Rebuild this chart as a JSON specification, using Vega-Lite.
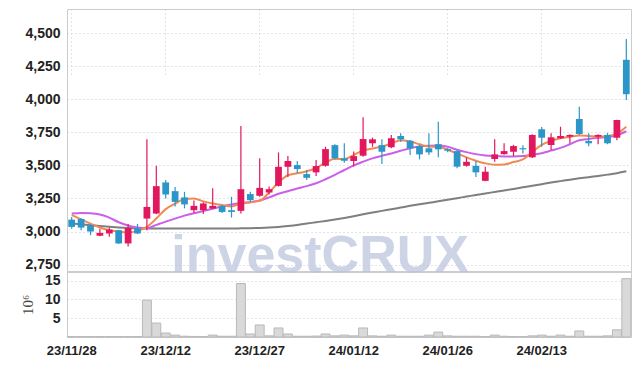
{
  "$schema": "https://vega.github.io/schema/vega-lite/v6.json",
  "width": 564,
  "height": 328,
  "autosize": {"type": "none"},
  "padding": {"left": 67, "top": 9, "right": 8, "bottom": 29},
  "background": "#ffffff",
  "config": {
    "view": {"stroke": "#cccccc", "strokeWidth": 1},
    "axis": {
      "labelFont": "Liberation Sans",
      "labelFontWeight": "bold",
      "labelFontSize": 13,
      "labelColor": "#222222",
      "ticks": false,
      "tickSize": 0,
      "domain": false,
      "gridColor": "#c4c8da",
      "gridDash": [1, 3],
      "gridWidth": 1
    }
  },
  "datasets": {
    "watermark": [{"label": "investCRUX", "date": "24/01/08", "price": 2694}]
  },
  "data": {
    "values": [
      {"date": "23/11/28", "open": 3090, "high": 3110, "low": 3020, "close": 3035, "volume": 0.1, "ma5": 3125, "ma20": 3136, "ma60": 3061},
      {"date": "23/11/29", "open": 3095, "high": 3100, "low": 3010, "close": 3030, "volume": 0.1, "ma5": 3092, "ma20": 3140, "ma60": 3055},
      {"date": "23/11/30", "open": 3048, "high": 3055, "low": 2972, "close": 3000, "volume": 0.1, "ma5": 3060, "ma20": 3138, "ma60": 3048},
      {"date": "23/12/01", "open": 2968, "high": 3020, "low": 2965, "close": 2990, "volume": 0.1, "ma5": 3030, "ma20": 3128, "ma60": 3042},
      {"date": "23/12/04", "open": 2985, "high": 3030, "low": 2960, "close": 3015, "volume": 0.1, "ma5": 3010, "ma20": 3105, "ma60": 3036},
      {"date": "23/12/05", "open": 3010, "high": 3012, "low": 2905, "close": 2910, "volume": 0.1, "ma5": 2998, "ma20": 3070, "ma60": 3031},
      {"date": "23/12/06", "open": 2910, "high": 3057, "low": 2887, "close": 3027, "volume": 0.1, "ma5": 2992, "ma20": 3045, "ma60": 3027},
      {"date": "23/12/07", "open": 3023, "high": 3057, "low": 2980, "close": 2985, "volume": 0.1, "ma5": 3005, "ma20": 3030, "ma60": 3025},
      {"date": "23/12/08", "open": 3098, "high": 3697, "low": 3010, "close": 3186, "volume": 9.8, "ma5": 3035, "ma20": 3025, "ma60": 3023},
      {"date": "23/12/11", "open": 3136, "high": 3497, "low": 3130, "close": 3343, "volume": 3.7, "ma5": 3098, "ma20": 3050, "ma60": 3023},
      {"date": "23/12/12", "open": 3371, "high": 3390, "low": 3250, "close": 3280, "volume": 1.05, "ma5": 3169, "ma20": 3075, "ma60": 3022},
      {"date": "23/12/13", "open": 3305, "high": 3336, "low": 3190, "close": 3224, "volume": 0.5, "ma5": 3210, "ma20": 3098, "ma60": 3022},
      {"date": "23/12/14", "open": 3258, "high": 3300, "low": 3175, "close": 3205, "volume": 0.2, "ma5": 3245, "ma20": 3120, "ma60": 3022},
      {"date": "23/12/15", "open": 3161, "high": 3235, "low": 3140, "close": 3194, "volume": 0.15, "ma5": 3250, "ma20": 3138, "ma60": 3022},
      {"date": "23/12/18", "open": 3161, "high": 3222, "low": 3133, "close": 3212, "volume": 0.1, "ma5": 3228, "ma20": 3155, "ma60": 3022},
      {"date": "23/12/19", "open": 3174, "high": 3327, "low": 3170, "close": 3194, "volume": 0.5, "ma5": 3212, "ma20": 3172, "ma60": 3022},
      {"date": "23/12/20", "open": 3194, "high": 3200, "low": 3140, "close": 3148, "volume": 0.2, "ma5": 3200, "ma20": 3190, "ma60": 3023},
      {"date": "23/12/21", "open": 3161, "high": 3262, "low": 3106, "close": 3148, "volume": 0.2, "ma5": 3190, "ma20": 3205, "ma60": 3023},
      {"date": "23/12/22", "open": 3156, "high": 3798, "low": 3136, "close": 3320, "volume": 14.2, "ma5": 3212, "ma20": 3215, "ma60": 3024},
      {"date": "23/12/26", "open": 3283, "high": 3300, "low": 3225, "close": 3237, "volume": 0.8, "ma5": 3222, "ma20": 3222, "ma60": 3025},
      {"date": "23/12/27", "open": 3270, "high": 3553, "low": 3262, "close": 3330, "volume": 3.2, "ma5": 3232, "ma20": 3235, "ma60": 3027},
      {"date": "23/12/28", "open": 3295, "high": 3340, "low": 3280, "close": 3320, "volume": 0.3, "ma5": 3295, "ma20": 3258, "ma60": 3030},
      {"date": "24/01/02", "open": 3345, "high": 3598, "low": 3340, "close": 3489, "volume": 2.4, "ma5": 3370, "ma20": 3285, "ma60": 3035},
      {"date": "24/01/03", "open": 3489, "high": 3570, "low": 3413, "close": 3533, "volume": 0.8, "ma5": 3425, "ma20": 3305, "ma60": 3042},
      {"date": "24/01/04", "open": 3502, "high": 3533, "low": 3443, "close": 3472, "volume": 0.2, "ma5": 3440, "ma20": 3325, "ma60": 3050},
      {"date": "24/01/05", "open": 3434, "high": 3465, "low": 3390, "close": 3406, "volume": 0.2, "ma5": 3455, "ma20": 3343, "ma60": 3060},
      {"date": "24/01/08", "open": 3447, "high": 3540, "low": 3420, "close": 3495, "volume": 0.25, "ma5": 3480, "ma20": 3365, "ma60": 3070},
      {"date": "24/01/09", "open": 3497, "high": 3641, "low": 3490, "close": 3623, "volume": 0.8, "ma5": 3520, "ma20": 3395, "ma60": 3080},
      {"date": "24/01/10", "open": 3653, "high": 3660, "low": 3545, "close": 3553, "volume": 0.3, "ma5": 3550, "ma20": 3428, "ma60": 3091},
      {"date": "24/01/11", "open": 3553, "high": 3668, "low": 3520, "close": 3535, "volume": 0.5, "ma5": 3548, "ma20": 3465, "ma60": 3103},
      {"date": "24/01/12", "open": 3533, "high": 3604, "low": 3492, "close": 3570, "volume": 0.3, "ma5": 3578, "ma20": 3500, "ma60": 3116},
      {"date": "24/01/15", "open": 3573, "high": 3864, "low": 3565, "close": 3699, "volume": 2.4, "ma5": 3612, "ma20": 3528, "ma60": 3130},
      {"date": "24/01/16", "open": 3667, "high": 3710, "low": 3640, "close": 3697, "volume": 0.3, "ma5": 3628, "ma20": 3553, "ma60": 3143},
      {"date": "24/01/17", "open": 3653, "high": 3697, "low": 3510, "close": 3603, "volume": 0.2, "ma5": 3642, "ma20": 3572, "ma60": 3156},
      {"date": "24/01/18", "open": 3637, "high": 3730, "low": 3630, "close": 3705, "volume": 0.5, "ma5": 3665, "ma20": 3590, "ma60": 3168},
      {"date": "24/01/19", "open": 3722, "high": 3742, "low": 3676, "close": 3697, "volume": 0.2, "ma5": 3690, "ma20": 3610, "ma60": 3181},
      {"date": "24/01/22", "open": 3686, "high": 3692, "low": 3578, "close": 3629, "volume": 0.2, "ma5": 3680, "ma20": 3630, "ma60": 3194},
      {"date": "24/01/23", "open": 3646, "high": 3655, "low": 3545, "close": 3583, "volume": 0.2, "ma5": 3660, "ma20": 3642, "ma60": 3206},
      {"date": "24/01/24", "open": 3629, "high": 3742, "low": 3578, "close": 3598, "volume": 0.5, "ma5": 3642, "ma20": 3648, "ma60": 3217},
      {"date": "24/01/25", "open": 3660, "high": 3830, "low": 3561, "close": 3621, "volume": 1.3, "ma5": 3640, "ma20": 3650, "ma60": 3228},
      {"date": "24/01/26", "open": 3623, "high": 3630, "low": 3600, "close": 3611, "volume": 0.3, "ma5": 3618, "ma20": 3640, "ma60": 3240},
      {"date": "24/01/29", "open": 3608, "high": 3615, "low": 3478, "close": 3490, "volume": 0.2, "ma5": 3590, "ma20": 3618, "ma60": 3252},
      {"date": "24/01/30", "open": 3497, "high": 3560, "low": 3490, "close": 3527, "volume": 0.2, "ma5": 3560, "ma20": 3600, "ma60": 3264},
      {"date": "24/01/31", "open": 3497, "high": 3533, "low": 3413, "close": 3447, "volume": 0.2, "ma5": 3535, "ma20": 3585, "ma60": 3276},
      {"date": "24/02/01", "open": 3383, "high": 3490, "low": 3380, "close": 3452, "volume": 0.1, "ma5": 3515, "ma20": 3575, "ma60": 3288},
      {"date": "24/02/02", "open": 3548, "high": 3697, "low": 3527, "close": 3583, "volume": 0.5, "ma5": 3505, "ma20": 3570, "ma60": 3299},
      {"date": "24/02/05", "open": 3585, "high": 3667, "low": 3580, "close": 3608, "volume": 0.2, "ma5": 3507, "ma20": 3568, "ma60": 3310},
      {"date": "24/02/06", "open": 3603, "high": 3655, "low": 3570, "close": 3646, "volume": 0.1, "ma5": 3525, "ma20": 3568, "ma60": 3322},
      {"date": "24/02/07", "open": 3630, "high": 3653, "low": 3590, "close": 3621, "volume": 0.1, "ma5": 3545, "ma20": 3570, "ma60": 3334},
      {"date": "24/02/08", "open": 3561, "high": 3735, "low": 3555, "close": 3730, "volume": 0.3, "ma5": 3600, "ma20": 3580, "ma60": 3346},
      {"date": "24/02/13", "open": 3773, "high": 3790, "low": 3640, "close": 3709, "volume": 0.5, "ma5": 3655, "ma20": 3592, "ma60": 3358},
      {"date": "24/02/14", "open": 3654, "high": 3742, "low": 3616, "close": 3712, "volume": 0.2, "ma5": 3685, "ma20": 3612, "ma60": 3370},
      {"date": "24/02/15", "open": 3705, "high": 3792, "low": 3700, "close": 3722, "volume": 0.5, "ma5": 3705, "ma20": 3632, "ma60": 3381},
      {"date": "24/02/16", "open": 3717, "high": 3735, "low": 3667, "close": 3730, "volume": 0.2, "ma5": 3715, "ma20": 3660, "ma60": 3392},
      {"date": "24/02/19", "open": 3851, "high": 3944, "low": 3730, "close": 3737, "volume": 1.6, "ma5": 3725, "ma20": 3690, "ma60": 3402},
      {"date": "24/02/20", "open": 3684, "high": 3742, "low": 3644, "close": 3667, "volume": 0.2, "ma5": 3722, "ma20": 3700, "ma60": 3411},
      {"date": "24/02/21", "open": 3717, "high": 3735, "low": 3660, "close": 3730, "volume": 0.2, "ma5": 3718, "ma20": 3708, "ma60": 3420},
      {"date": "24/02/22", "open": 3730, "high": 3745, "low": 3660, "close": 3667, "volume": 0.3, "ma5": 3722, "ma20": 3714, "ma60": 3430},
      {"date": "24/02/23", "open": 3709, "high": 3845, "low": 3690, "close": 3843, "volume": 1.9, "ma5": 3740, "ma20": 3728, "ma60": 3441},
      {"date": "24/02/26", "open": 4298, "high": 4455, "low": 3995, "close": 4038, "volume": 15.5, "ma5": 3792, "ma20": 3758, "ma60": 3455}
    ]
  },
  "layer": [
    {
      "mark": {"type": "bar", "width": {"band": 0.95}, "fill": "#d9d9d9", "stroke": "#b8b8b8", "strokeWidth": 1},
      "encoding": {
        "x": {"field": "date", "type": "ordinal", "sort": null,
          "scale": {"paddingInner": 0, "paddingOuter": 0},
          "axis": {"values": ["23/11/28", "23/12/12", "23/12/27", "24/01/12", "24/01/26", "24/02/13"], "labelAngle": 0, "grid": true, "bandPosition": 0.5, "labelPadding": 7, "title": null}},
        "y": {"field": "volume", "type": "quantitative", "scale": {"domain": [0, 17.26], "range": [328, 263], "nice": false},
          "axis": {"values": [5, 10, 15], "grid": true, "labelPadding": 7, "labelFontSize": 14, "orient": "left", "title": "10⁶", "titleFont": "Liberation Serif", "titleFontWeight": "normal", "titleFontSize": 15, "titleColor": "#444444", "titlePadding": 9}}
      }
    },
    {
      "layer": [
        {
          "mark": {"type": "rule", "color": "#cccccc", "strokeWidth": 1},
          "encoding": {
            "y": {"datum": 2694, "type": "quantitative", "scale": {"domain": [2694, 4682], "range": [263, 0], "nice": false, "zero": false}}
          }
        },
        {
          "mark": {"type": "line", "color": "#7f7f7f", "strokeWidth": 2, "interpolate": "monotone"},
          "encoding": {
            "x": {"field": "date", "type": "ordinal", "sort": null},
            "y": {"field": "ma60", "type": "quantitative", "scale": {"domain": [2694, 4682], "range": [263, 0], "nice": false, "zero": false}}
          }
        },
        {
          "mark": {"type": "line", "color": "#cc5fe8", "strokeWidth": 2, "interpolate": "monotone"},
          "encoding": {
            "x": {"field": "date", "type": "ordinal", "sort": null},
            "y": {"field": "ma20", "type": "quantitative", "scale": {"domain": [2694, 4682], "range": [263, 0], "nice": false, "zero": false}}
          }
        },
        {
          "mark": {"type": "line", "color": "#f08a52", "strokeWidth": 2, "interpolate": "monotone"},
          "encoding": {
            "x": {"field": "date", "type": "ordinal", "sort": null},
            "y": {"field": "ma5", "type": "quantitative", "scale": {"domain": [2694, 4682], "range": [263, 0], "nice": false, "zero": false}}
          }
        },
        {
          "mark": {"type": "rule", "strokeWidth": 1.2},
          "encoding": {
            "x": {"field": "date", "type": "ordinal", "sort": null},
            "y": {"field": "low", "type": "quantitative", "scale": {"domain": [2694, 4682], "range": [263, 0], "nice": false, "zero": false}},
            "y2": {"field": "high"},
            "color": {"condition": {"test": "datum.close > datum.open", "value": "#e2185f"}, "value": "#2c96c8"}
          }
        },
        {
          "mark": {"type": "bar", "width": {"band": 0.72}},
          "encoding": {
            "x": {"field": "date", "type": "ordinal", "sort": null},
            "y": {"field": "open", "type": "quantitative", "scale": {"domain": [2694, 4682], "range": [263, 0], "nice": false, "zero": false},
              "axis": {"values": [2750, 3000, 3250, 3500, 3750, 4000, 4250, 4500], "format": ",d", "grid": true, "labelPadding": 7, "labelFontSize": 14, "title": null, "orient": "left"}},
            "y2": {"field": "close"},
            "color": {"condition": {"test": "datum.close > datum.open", "value": "#e2185f"}, "value": "#2c96c8"}
          }
        },
        {
          "data": {"name": "watermark"},
          "mark": {"type": "text", "font": "Liberation Sans", "fontWeight": "bold", "fontSize": 52, "align": "center", "baseline": "alphabetic", "fill": "#b9c2dc", "opacity": 0.7, "dx": 4},
          "encoding": {
            "text": {"field": "label"},
            "x": {"field": "date", "type": "ordinal", "sort": null},
            "y": {"field": "price", "type": "quantitative", "scale": {"domain": [2694, 4682], "range": [263, 0], "nice": false, "zero": false}}
          }
        }
      ]
    }
  ],
  "resolve": {"scale": {"y": "independent"}, "axis": {"y": "independent"}}
}
